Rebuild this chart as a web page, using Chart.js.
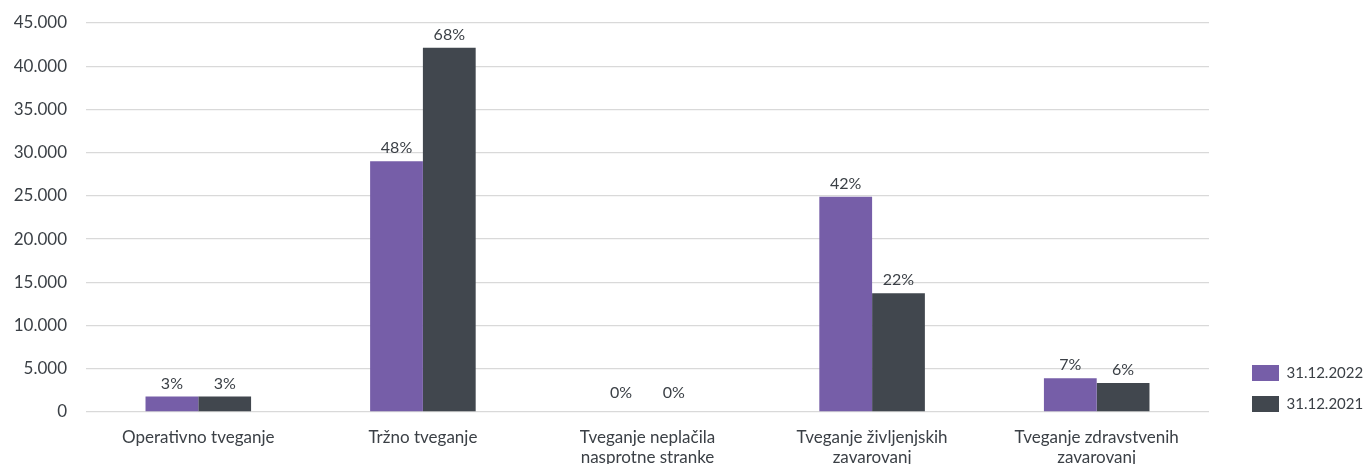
<!DOCTYPE html>
<html>
<head>
<meta charset="utf-8">
<script src="https://cdn.jsdelivr.net/npm/chart.js@4.4.1/dist/chart.umd.min.js"></script>
<style>
  html, body { margin: 0; padding: 0; background: #fff; }
  #wrap { width: 1365px; height: 464px; }
</style>
</head>
<body>
<div id="wrap"><canvas id="myChart"></canvas></div>
<script>
// kapitalske zahteve po modulih tveganja
const categories = [
    'Operativno tveganje',
    'Tržno tveganje',
    ['Tveganje neplačila', 'nasprotne stranke'],
    ['Tveganje življenjskih', 'zavarovanj'],
    ['Tveganje zdravstvenih', 'zavarovanj']
];
const seriesNames = ['31.12.2022', '31.12.2021'];
const values2022 = [1800, 29000, 0, 24900, 3900];
const values2021 = [1800, 42150, 0, 13750, 3350];
const shares2022 = ['3%', '48%', '0%', '42%', '7%'];
const shares2021 = ['3%', '68%', '0%', '22%', '6%'];
const yTicks = { min: 0, max: 45000, step: 5000 };

const textColor = '#3b4046';
const fontFamily = 'Lato, "Open Sans", sans-serif';

function thousands(v) {
    return String(v).replace(/\B(?=(\d{3})+(?!\d))/g, '.');
}

// odstotki nad stolpci (pri ničelnih malo višje)
const barLabels = {
    id: 'barLabels',
    afterDatasetsDraw(chart) {
        const ctx = chart.ctx;
        ctx.save();
        ctx.font = '16px ' + fontFamily;
        ctx.fillStyle = textColor;
        ctx.textAlign = 'center';
        ctx.textBaseline = 'middle';
        chart.data.datasets.forEach((ds, i) => {
            chart.getDatasetMeta(i).data.forEach((bar, j) => {
                const lift = ds.data[j] === 0 ? 19 : 13;
                ctx.fillText(ds.shares[j], bar.x, bar.y - lift);
            });
        });
        ctx.restore();
    }
};

// legenda desno spodaj, malo odmaknjena od grafa
const legendSpot = {
    id: 'legendSpot',
    afterInit(chart) {
        const legend = chart.legend;
        const fit = legend.fit;
        legend.fit = function () {
            fit.call(this);
            this.width = 156;
        };
    },
    afterLayout(chart) {
        const legend = chart.legend;
        const pad = chart.options.plugins.legend.labels.padding;
        legend.left = chart.chartArea.right + 43 - pad;
        legend.bottom = chart.chartArea.bottom + 15;
    }
};

const ctx = document.getElementById('myChart').getContext('2d');
const myChart = new Chart(ctx, {
    type: 'bar',
    data: {
        labels: categories,
        datasets: [{
            label: seriesNames[0],
            data: values2022,
            shares: shares2022,
            backgroundColor: '#765ea8'
        }, {
            label: seriesNames[1],
            data: values2021,
            shares: shares2021,
            backgroundColor: '#41474e'
        }]
    },
    plugins: [barLabels, legendSpot],
    options: {
        animation: false,
        responsive: true,
        maintainAspectRatio: false,
        categoryPercentage: 0.47,
        barPercentage: 1.0,
        layout: {
            padding: { top: 23, left: 0, right: 0, bottom: 0 }
        },
        plugins: {
            legend: {
                position: 'right',
                align: 'end',
                labels: {
                    boxWidth: 27,
                    boxHeight: 16,
                    padding: 15,
                    color: textColor,
                    font: { family: fontFamily, size: 15 }
                }
            },
            tooltip: { enabled: false }
        },
        scales: {
            x: {
                grid: { display: false, drawTicks: false },
                border: { display: false },
                afterFit: function (scale) {
                    scale.height = 52;
                },
                ticks: {
                    color: textColor,
                    padding: 15,
                    maxRotation: 0,
                    font: { family: fontFamily, size: 17 }
                }
            },
            y: {
                min: yTicks.min,
                max: yTicks.max,
                grid: { color: '#d9d9d9', lineWidth: 1.3, drawTicks: false },
                border: { display: false },
                afterFit: function (scale) {
                    scale.width = 86;
                    scale.paddingTop = 0;
                    scale.paddingBottom = 0;
                },
                ticks: {
                    stepSize: yTicks.step,
                    color: textColor,
                    padding: 19,
                    font: { family: fontFamily, size: 17 },
                    callback: function (value) {
                        return thousands(value);
                    }
                }
            }
        }
    }
});
</script>
</body>
</html>
